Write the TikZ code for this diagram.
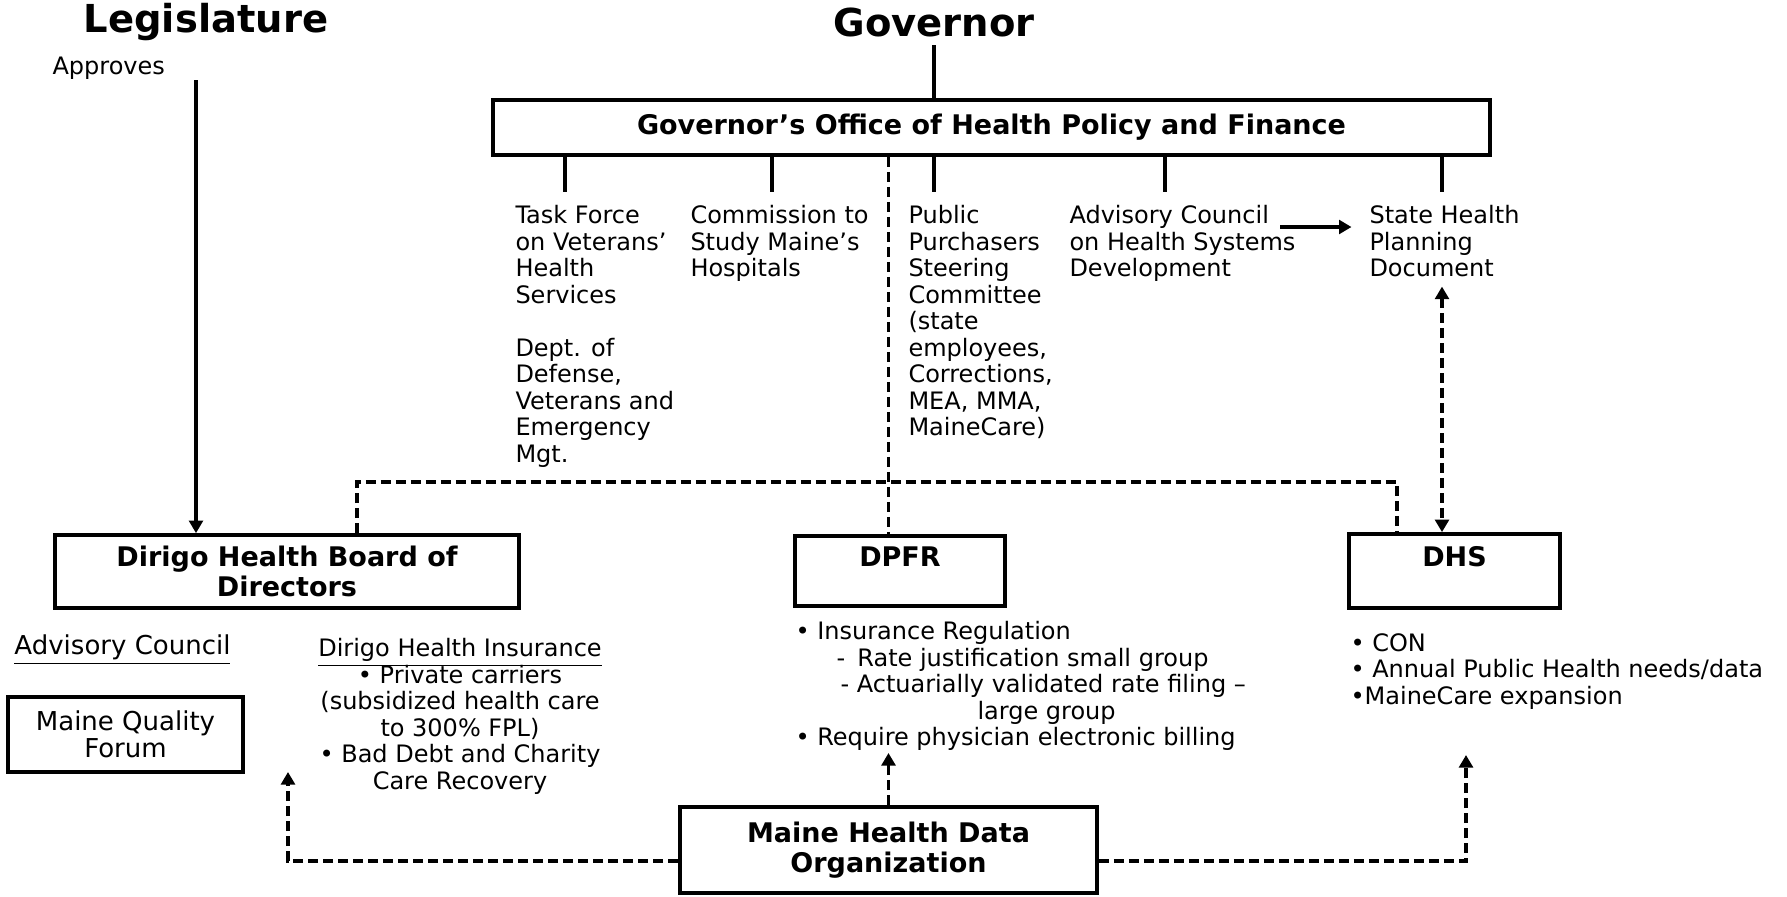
\documentclass[tikz,border=0pt]{standalone}
\usepackage{fontspec}
\setmainfont{DejaVu Sans}
\usetikzlibrary{arrows.meta, positioning}

\setlength{\lineskiplimit}{-20pt}
\newcommand{\bodyfont}{\fontsize{9.6}{10.6}\selectfont}
\newcommand{\largebody}{\fontsize{10.4}{10.8}\selectfont}
\newcommand{\boxfont}{\fontsize{10.8}{11.8}\selectfont\bfseries}
\newcommand{\titlefont}{\fontsize{15.4}{18}\selectfont\bfseries}

\begin{document}
\begin{tikzpicture}[x=0.4pt, y=-0.4pt,
		box/.style = {draw, line width=1.5pt, inner sep=0pt, align=center},
		head/.style = {box, font=\boxfont},
		note/.style = {inner sep=0pt, align=left, font=\bodyfont},
		solid line/.style = {line width=1.5pt},
		dash line/.style = {line width=1.4pt, dash pattern=on 4pt off 2pt},
		arrow end/.style = {-{Triangle[length=5pt, width=5.5pt]}},
		both ends/.style = {{Triangle[length=5pt, width=5.5pt]}-{Triangle[length=5pt, width=5.5pt]}}
	]
		\def\px{0.4pt}
		\useasboundingbox (0,0) rectangle (1787,896);
		
		\node [font=\titlefont] (legislature) at (206,22) {Legislature};
		\node [font=\titlefont] (governor) at (934,22) {Governor};
		\node [note, anchor=west] (approves) at (52,68) {Approves};
		
		\node [head, minimum width={997*\px}, minimum height={55*\px}] (office) at (991.5,127.5) {Governor's Office of Health Policy and Finance};
		
		%groups under the office
		\node [note, anchor=north west] (task force) at (515,205) {Task Force\\on Veterans'\\Health\\Services\\[10.6pt]Dept. of\\Defense,\\Veterans and\\Emergency\\Mgt.};
		\node [note, anchor=north west] (commission) at (690,205) {Commission to\\Study Maine's\\Hospitals};
		\node [note, anchor=north west] (purchasers) at (908,205) {Public\\Purchasers\\Steering\\Committee\\(state\\employees,\\Corrections,\\MEA, MMA,\\MaineCare)};
		\node [note, anchor=north west] (advisory) at (1069,205) {Advisory Council\\on Health Systems\\Development};
		\node [note, anchor=north west] (state plan) at (1369,205) {State Health\\Planning\\Document};
		
		%agencies
		\node [head, minimum width={464*\px}, minimum height={73*\px}] (dirigo) at (287,571.5) {Dirigo Health Board of\\Directors};
		\node [head, minimum width={210*\px}, minimum height={70*\px}] (dpfr) at (900,571) {DPFR\\~};
		\node [head, minimum width={211*\px}, minimum height={74*\px}] (dhs) at (1454.5,571) {DHS\\~};
		
		\node [note, font=\largebody, anchor=west] (advisory council) at (14,650) {\underline{Advisory Council}};
		\node [box, font=\largebody, minimum width={235*\px}, minimum height={75*\px}] (quality forum) at (125.5,734.5) {Maine Quality\\Forum};
		\node [note, align=center, anchor=north] (insurance) at (460,638) {\underline{Dirigo Health Insurance}\\• Private carriers\\(subsidized health care\\to 300\% FPL)\\• Bad Debt and Charity\\Care Recovery};
		\node [note, anchor=north west] (dpfr list) at (795,621) {• Insurance Regulation\\\hspace*{16.4pt}-\hspace{4.9pt}Rate justification small group\\\hspace*{18pt}- Actuarially validated rate filing --\\\hspace*{72.8pt}large group\\• Require physician electronic billing};
		\node [note, anchor=north west] (dhs list) at (1350,633) {• CON\\• Annual Public Health needs/data\\•MaineCare expansion};
		
		\node [head, minimum width={417*\px}, minimum height={86*\px}] (mhdo) at (888.5,850) {Maine Health Data\\Organization};
		
		%reporting lines
		\coordinate (approval) at (196,80);
		\draw [solid line, arrow end] (approval) -- (approval |- dirigo.north);
		\draw [solid line] (governor.south) -- (governor.south |- office.north);
		\foreach \x/\name in {565/task force, 772/commission, 934/purchasers, 1165/advisory, 1442/state plan}{
			\coordinate (tick \name) at (\x,192);
			\draw [solid line] (tick \name |- office.south) -- (tick \name);
		}
		\coordinate (advisory out) at (1280,227);
		\draw [solid line, arrow end, shorten >=7pt] (advisory out) -- (advisory out -| state plan.west);
		
		%dashed links
		\draw [dash line] (office.south -| mhdo.north) -- (dpfr.north -| mhdo.north);
		\coordinate (board left) at (357,482);
		\coordinate (board right) at (1397,482);
		\draw [dash line] (board left |- dirigo.north) -- (board left) -- (board right) -- (board right |- dhs.north);
		\draw [dash line, both ends, shorten <=3.6pt] (tick state plan |- state plan.south) -- (tick state plan |- dhs.north);
		
		%data flows
		\coordinate (dpfr in) at (888.5,753);
		\draw [dash line, arrow end] (mhdo.north) -- (dpfr in);
		\coordinate (mhdo left) at (288,861);
		\coordinate (board in) at (288,772);
		\draw [dash line, arrow end] (mhdo left -| mhdo.west) -- (mhdo left) -- (board in);
		\coordinate (mhdo right) at (1466,861);
		\coordinate (dhs in) at (1466,755);
		\draw [dash line, arrow end] (mhdo right -| mhdo.east) -- (mhdo right) -- (dhs in);
	\end{tikzpicture}
\end{document}
